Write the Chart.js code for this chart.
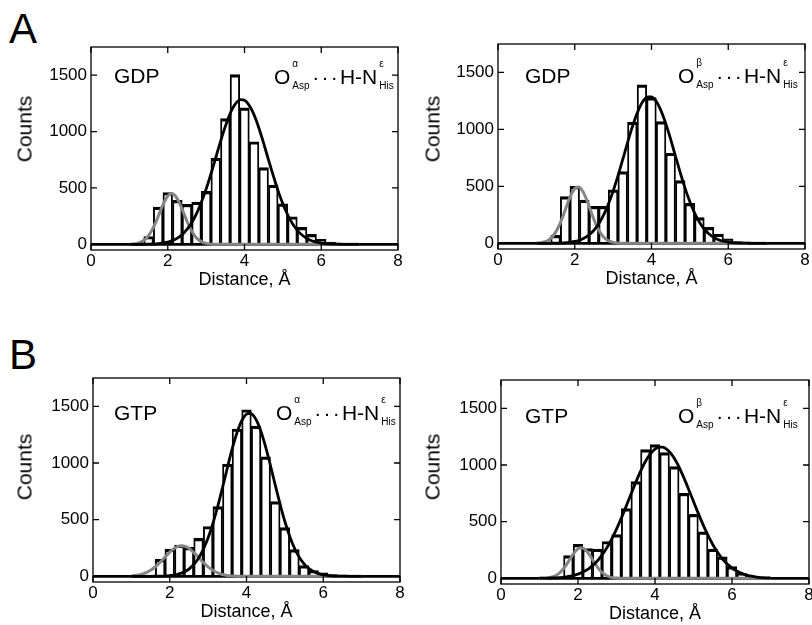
<!DOCTYPE html>
<html>
<head>
<meta charset="utf-8">
<title>Asp-His distance histograms</title>
<script src="https://cdn.jsdelivr.net/npm/chart.js@4.4.1/dist/chart.umd.min.js"></script>
<style>
  html, body { margin: 0; padding: 0; background: #fff; }
  body { position: relative; width: 812px; height: 625px; overflow: hidden;
         font-family: "Liberation Sans", Arial, Helvetica, sans-serif; color: #000; }
  canvas { position: absolute; }
  .txt { position: absolute; line-height: 1; white-space: nowrap; }
  .letter { font-size: 42px; }
  .tag { font-size: 21px; }
  .ylab { font-size: 21px; transform: translate(-50%, -50%) rotate(-90deg); }
  .fm { font-size: 21px; }
  .ss { position: relative; display: inline-block; width: 22px; height: 17px; }
  .ss span { position: absolute; left: 2px; font-size: 10px; line-height: 1; }
  .ss .up { top: -8.5px; }
  .ss .dn { top: 13.5px; }
  .dots { letter-spacing: 2.2px; }
</style>
</head>
<body>
<div class="txt letter" style="left:9px; top:8px">A</div>
<div class="txt letter" style="left:9px; top:334px">B</div>
<script>
var FONT = '"Liberation Sans", Arial, Helvetica, sans-serif';

// histogram bins, Å
var BIN_CENTERS = [1.25, 1.5, 1.75, 2.0, 2.25, 2.5, 2.75, 3.0, 3.25, 3.5, 3.75, 4.0, 4.25,
                   4.5, 4.75, 5.0, 5.25, 5.5, 5.75, 6.0, 6.25, 6.5, 6.75, 7.0, 7.25];

// counts per bin
var GDP_A_COUNTS = [10, 70, 330, 460, 390, 355, 375, 470, 765, 1115, 1505, 1210, 910,
                    680, 525, 360, 245, 150, 88, 44, 20, 10, 5, 0, 0];
var GDP_B_COUNTS = [10, 70, 410, 500, 380, 325, 325, 470, 630, 1064, 1392, 1280, 1069,
                    791, 550, 350, 225, 140, 80, 40, 15, 5, 0, 0, 0];
var GTP_A_COUNTS = [0, 10, 150, 240, 275, 255, 335, 440, 615, 990, 1300, 1470, 1325,
                    1055, 660, 430, 235, 95, 50, 30, 15, 5, 0, 0, 0];
var GTP_B_COUNTS = [0, 10, 200, 300, 262, 258, 325, 385, 615, 853, 1135, 1180, 1110,
                    985, 750, 565, 410, 258, 190, 103, 45, 20, 10, 5, 5];

// gaussian fits, sampled every 0.1 Å
var FIT_X = [1.0, 1.1, 1.2, 1.3, 1.4, 1.5, 1.6, 1.7, 1.8, 1.9,
             2.0, 2.1, 2.2, 2.3, 2.4, 2.5, 2.6, 2.7, 2.8, 2.9,
             3.0, 3.1, 3.2, 3.3, 3.4, 3.5, 3.6, 3.7, 3.8, 3.9,
             4.0, 4.1, 4.2, 4.3, 4.4, 4.5, 4.6, 4.7, 4.8, 4.9,
             5.0, 5.1, 5.2, 5.3, 5.4, 5.5, 5.6, 5.7, 5.8, 5.9,
             6.0, 6.1, 6.2, 6.3, 6.4, 6.5, 6.6, 6.7, 6.8, 6.9,
             7.0];

var GDP_A_FIT_SHORT = [1, 3, 9, 20, 41, 78, 133, 206, 290, 370,
                       428, 450, 428, 370, 290, 206, 133, 78, 41, 20,
                       9, 3, 1, 0, 0, 0, 0, 0, 0, 0,
                       0, 0, 0, 0, 0, 0, 0, 0, 0, 0,
                       0, 0, 0, 0, 0, 0, 0, 0, 0, 0,
                       0, 0, 0, 0, 0, 0, 0, 0, 0, 0,
                       0];
var GDP_A_FIT_LONG = [0, 0, 0, 1, 1, 2, 3, 5, 8, 13,
                      20, 31, 46, 67, 95, 132, 179, 238, 310, 395,
                      490, 596, 709, 826, 940, 1046, 1139, 1212, 1261, 1284,
                      1278, 1244, 1185, 1104, 1005, 895, 779, 664, 554, 450,
                      359, 280, 213, 158, 115, 83, 58, 39, 26, 17,
                      11, 7, 4, 3, 2, 1, 0, 0, 0, 0,
                      0];

var GDP_B_FIT_SHORT = [2, 5, 11, 25, 52, 96, 161, 245, 338, 423,
                       480, 494, 461, 391, 300, 209, 132, 76, 39, 19,
                       8, 3, 1, 0, 0, 0, 0, 0, 0, 0,
                       0, 0, 0, 0, 0, 0, 0, 0, 0, 0,
                       0, 0, 0, 0, 0, 0, 0, 0, 0, 0,
                       0, 0, 0, 0, 0, 0, 0, 0, 0, 0,
                       0];
var GDP_B_FIT_LONG = [0, 0, 0, 0, 1, 1, 2, 4, 6, 10,
                      16, 25, 38, 57, 82, 115, 159, 215, 283, 364,
                      458, 563, 677, 794, 912, 1022, 1121, 1201, 1257, 1286,
                      1286, 1257, 1201, 1121, 1022, 912, 794, 677, 563, 458,
                      364, 283, 215, 159, 115, 82, 57, 38, 25, 16,
                      10, 6, 4, 2, 1, 1, 0, 0, 0, 0,
                      0];

var GTP_A_FIT_SHORT = [4, 7, 13, 22, 35, 53, 78, 108, 142, 178,
                       213, 242, 262, 270, 265, 247, 219, 186, 149, 114,
                       83, 58, 38, 24, 14, 8, 4, 2, 1, 0,
                       0, 0, 0, 0, 0, 0, 0, 0, 0, 0,
                       0, 0, 0, 0, 0, 0, 0, 0, 0, 0,
                       0, 0, 0, 0, 0, 0, 0, 0, 0, 0,
                       0];
var GTP_A_FIT_LONG = [0, 0, 0, 0, 0, 0, 1, 1, 2, 4,
                      7, 11, 18, 28, 43, 64, 95, 135, 189, 257,
                      340, 440, 555, 682, 818, 956, 1091, 1212, 1314, 1388,
                      1431, 1438, 1410, 1347, 1255, 1141, 1011, 873, 736, 605,
                      484, 378, 288, 214, 155, 110, 76, 51, 33, 21,
                      13, 8, 5, 3, 2, 1, 1, 0, 0, 0,
                      0];

var GTP_B_FIT_SHORT = [0, 1, 4, 9, 21, 42, 75, 121, 175, 225,
                       261, 269, 249, 206, 153, 101, 60, 32, 15, 6,
                       2, 1, 0, 0, 0, 0, 0, 0, 0, 0,
                       0, 0, 0, 0, 0, 0, 0, 0, 0, 0,
                       0, 0, 0, 0, 0, 0, 0, 0, 0, 0,
                       0, 0, 0, 0, 0, 0, 0, 0, 0, 0,
                       0];
var GTP_B_FIT_LONG = [1, 1, 2, 3, 4, 6, 9, 13, 19, 27,
                      37, 51, 69, 91, 119, 153, 194, 243, 299, 363,
                      434, 511, 593, 678, 763, 847, 926, 998, 1059, 1107,
                      1141, 1158, 1158, 1141, 1107, 1059, 998, 926, 847, 763,
                      678, 593, 511, 434, 363, 299, 243, 194, 153, 119,
                      91, 69, 51, 37, 27, 19, 13, 9, 6, 4,
                      3];

var X_TICKS = [0, 2, 4, 6, 8];
var Y_TICKS = [0, 500, 1000, 1500];
var X_MIN = 0, X_MAX = 8;
var Y_MIN = -50, Y_MAX = 1750;

// layout of each panel: plot box [left, top, right, bottom] in page pixels
var AXIS_W = 91, AXIS_H = 45, PAD_TOP = 17, PAD_RIGHT = 10;
var PANELS = [
  { box: [91, 47, 398, 250], counts: GDP_A_COUNTS, short: GDP_A_FIT_SHORT, long: GDP_A_FIT_LONG,
    tag: 'GDP', tagAt: [114, 83], ox: 'α', fmAt: [274, 84], ylabAt: [24, 129] },
  { box: [498, 44, 805, 249], counts: GDP_B_COUNTS, short: GDP_B_FIT_SHORT, long: GDP_B_FIT_LONG,
    tag: 'GDP', tagAt: [525, 83], ox: 'β', fmAt: [678, 83], ylabAt: [432, 129] },
  { box: [93, 378, 400, 582], counts: GTP_A_COUNTS, short: GTP_A_FIT_SHORT, long: GTP_A_FIT_LONG,
    tag: 'GTP', tagAt: [114, 420], ox: 'α', fmAt: [276, 420], ylabAt: [24, 467] },
  { box: [501, 380, 809, 584], counts: GTP_B_COUNTS, short: GTP_B_FIT_SHORT, long: GTP_B_FIT_LONG,
    tag: 'GTP', tagAt: [525, 423], ox: 'β', fmAt: [678, 423], ylabAt: [432, 467] }
];

// box round the plot area with inward ticks on all four sides
var framePlugin = {
  id: 'frame',
  afterDraw: function (chart) {
    var ctx = chart.ctx, a = chart.chartArea;
    var xs = chart.scales.x, ys = chart.scales.y;
    var len = 6;
    ctx.save();
    ctx.strokeStyle = '#000';
    ctx.lineWidth = 1.3;
    ctx.strokeRect(a.left, a.top, a.right - a.left, a.bottom - a.top);
    ctx.beginPath();
    X_TICKS.forEach(function (v) {
      var px = xs.getPixelForValue(v);
      ctx.moveTo(px, a.bottom); ctx.lineTo(px, a.bottom - len);
      ctx.moveTo(px, a.top); ctx.lineTo(px, a.top + len);
    });
    Y_TICKS.forEach(function (v) {
      var py = ys.getPixelForValue(v);
      ctx.moveTo(a.left, py); ctx.lineTo(a.left + len, py);
      ctx.moveTo(a.right, py); ctx.lineTo(a.right - len, py);
    });
    ctx.stroke();
    ctx.restore();
  }
};

function addText(cls, left, top, html) {
  var d = document.createElement('div');
  d.className = 'txt ' + cls;
  d.style.left = left + 'px';
  d.style.top = top + 'px';
  d.innerHTML = html;
  document.body.appendChild(d);
}

function plainTick(v) { return String(v); }

PANELS.forEach(function (p) {
  var L = p.box[0], T = p.box[1], R = p.box[2], B = p.box[3];
  var cv = document.createElement('canvas');
  cv.width = AXIS_W + (R - L) + PAD_RIGHT;
  cv.height = PAD_TOP + (B - T) + AXIS_H;
  cv.style.left = (L - AXIS_W) + 'px';
  cv.style.top = (T - PAD_TOP) + 'px';
  document.body.appendChild(cv);

  new Chart(cv, {
    type: 'bar',
    data: {
      datasets: [
        {
          type: 'line',
          data: FIT_X.map(function (x, i) { return { x: x, y: p.long[i] }; }),
          borderColor: '#000', borderWidth: 2.8,
          pointRadius: 0, fill: false, cubicInterpolationMode: 'monotone',
          order: 0
        },
        {
          type: 'line',
          data: FIT_X.map(function (x, i) { return { x: x, y: p.short[i] }; }),
          borderColor: '#858585', borderWidth: 3,
          pointRadius: 0, fill: false, cubicInterpolationMode: 'monotone',
          order: 1
        },
        {
          type: 'line',
          data: [{ x: X_MIN, y: 0 }, { x: X_MAX, y: 0 }],
          borderColor: '#000', borderWidth: 2.7,
          pointRadius: 0, fill: false,
          order: 2
        },
        {
          type: 'bar',
          data: BIN_CENTERS.map(function (x, i) { return { x: x, y: p.counts[i] }; }),
          backgroundColor: '#fff', borderColor: '#000',
          borderWidth: { top: 3.2, left: 1.9, right: 1.9, bottom: 0 },
          borderSkipped: false,
          barPercentage: 1, categoryPercentage: 1,
          order: 3
        }
      ]
    },
    options: {
      responsive: false,
      animation: false,
      devicePixelRatio: 1,
      layout: { padding: { top: PAD_TOP, right: PAD_RIGHT, left: 0, bottom: 0 } },
      plugins: { legend: { display: false }, tooltip: { enabled: false } },
      scales: {
        x: {
          type: 'linear', min: X_MIN, max: X_MAX, offset: false,
          afterBuildTicks: function (s) { s.ticks = X_TICKS.map(function (v) { return { value: v }; }); },
          afterFit: function (s) { s.height = AXIS_H; },
          grid: { display: false, drawTicks: false },
          border: { display: false },
          ticks: { color: '#000', font: { family: FONT, size: 17 }, padding: 1,
                   maxRotation: 0, autoSkip: false, callback: plainTick },
          title: { display: true, text: 'Distance, Å', color: '#000',
                   font: { family: FONT, size: 18 }, padding: { top: 0, bottom: 4 } }
        },
        y: {
          type: 'linear', min: Y_MIN, max: Y_MAX,
          afterBuildTicks: function (s) { s.ticks = Y_TICKS.map(function (v) { return { value: v }; }); },
          afterFit: function (s) { s.width = AXIS_W; },
          grid: { display: false, drawTicks: false },
          border: { display: false },
          ticks: { color: '#000', font: { family: FONT, size: 17 }, padding: 4,
                   autoSkip: false, callback: plainTick }
        }
      }
    },
    plugins: [framePlugin]
  });

  // in-plot labels and the rotated axis title
  addText('tag', p.tagAt[0], p.tagAt[1] - 17.8, p.tag);
  addText('fm', p.fmAt[0], p.fmAt[1] - 17.8,
    'O<span class="ss"><span class="up">' + p.ox + '</span><span class="dn">Asp</span></span>' +
    '<span class="dots">···</span>H-N' +
    '<span class="ss"><span class="up">ε</span><span class="dn">His</span></span>');
  addText('ylab', p.ylabAt[0], p.ylabAt[1], 'Counts');
});
</script>
</body>
</html>
